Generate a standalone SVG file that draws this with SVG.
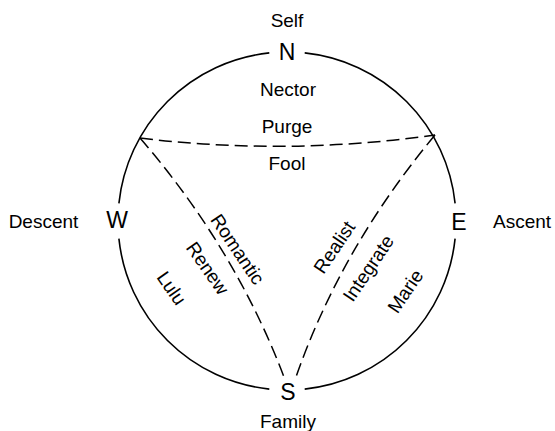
<svg xmlns="http://www.w3.org/2000/svg" width="555" height="431" viewBox="0 0 555 431">
<style>
.t{font-family:"Liberation Sans",Arial,sans-serif;font-size:19px;fill:#000;text-anchor:middle}
.b{font-family:"Liberation Sans",Arial,sans-serif;font-size:23px;fill:#000;text-anchor:middle}
.c{fill:none;stroke:#000;stroke-width:1.6}
.d{fill:none;stroke:#000;stroke-width:1.5;stroke-dasharray:13 6}
</style>
<rect width="555" height="431" fill="#fff"/>
<g id="circle">
<path class="c" d="M304.7,52.9 A169,169 0 0 1 455.1,203.3"/>
<path class="c" d="M455.1,238.7 A169,169 0 0 1 304.7,389.1"/>
<path class="c" d="M269.3,389.1 A169,169 0 0 1 118.9,238.7"/>
<path class="c" d="M118.9,203.3 A169,169 0 0 1 269.3,52.9"/>
</g>
<g id="connectors">
<path class="d" d="M140,138 Q287,156 435,135"/>
<path class="d" d="M140,138 Q235,248 284,377"/>
<path class="d" d="M435,135 Q341,248 296,377"/>
</g>
<g id="node-N"><text class="t" x="287" y="27">Self</text><text class="b" x="287" y="60">N</text></g>
<g id="node-S"><text class="b" x="288" y="400">S</text><text class="t" x="288" y="428">Family</text></g>
<g id="node-W"><text class="b" x="117" y="228">W</text><text class="t" x="43.5" y="228">Descent</text></g>
<g id="node-E"><text class="b" x="459" y="230">E</text><text class="t" x="522" y="228">Ascent</text></g>
<g id="labels">
<text class="t" x="288" y="96">Nector</text>
<text class="t" x="287" y="133">Purge</text>
<text class="t" x="287" y="170">Fool</text>
<text class="t" transform="translate(238,249) rotate(56)" y="7">Romantic</text>
<text class="t" transform="translate(208,268) rotate(55)" y="7">Renew</text>
<text class="t" transform="translate(172,288) rotate(55)" y="7">Lulu</text>
<text class="t" transform="translate(334,247) rotate(-56)" y="7">Realist</text>
<text class="t" transform="translate(368,268) rotate(-56)" y="7">Integrate</text>
<text class="t" transform="translate(405,291) rotate(-56)" y="7">Marie</text>
</g>
</svg>
